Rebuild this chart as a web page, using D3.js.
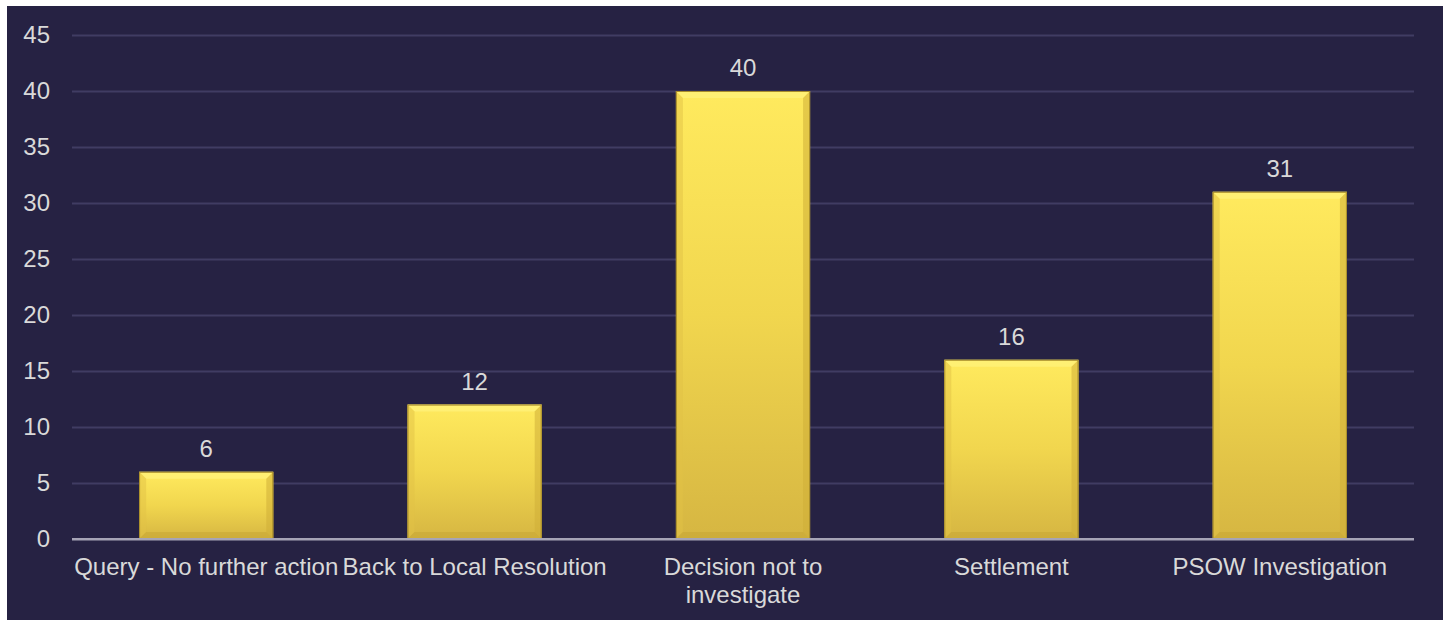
<!DOCTYPE html>
<html>
<head>
<meta charset="utf-8">
<script src="https://cdn.jsdelivr.net/npm/d3@7"></script>
<style>
  html, body { margin: 0; padding: 0; background: #ffffff; }
  svg { display: block; }
  text { font-family: "Liberation Sans", Arial, sans-serif; }
</style>
</head>
<body>
<svg id="chart" width="1448" height="620"></svg>
<script>
const categories = ["Query - No further action", "Back to Local Resolution", "Decision not to investigate", "Settlement", "PSOW Investigation"];
const values = [6, 12, 40, 16, 31];
const yTicks = [0, 5, 10, 15, 20, 25, 30, 35, 40, 45];

const W = 1448, H = 620;
const FS = 24;
const panel = {x: 7, y: 6, w: 1436, h: 620};
const margin = {left: 72, right: 34, top: 35, bottom: 81};

const svg = d3.select("#chart");

const defs = svg.append("defs");
const grad = defs.append("linearGradient").attr("id", "barGrad")
  .attr("x1", 0).attr("y1", 0).attr("x2", 0).attr("y2", 1);
grad.append("stop").attr("offset", "0%").attr("stop-color", "#ffea5e");
grad.append("stop").attr("offset", "50%").attr("stop-color", "#f1d64e");
grad.append("stop").attr("offset", "100%").attr("stop-color", "#d6b642");

svg.append("rect").attr("x", panel.x).attr("y", panel.y)
  .attr("width", panel.w).attr("height", panel.h).attr("fill", "#262243");

const x = d3.scaleBand().domain(categories)
  .range([margin.left, W - margin.right]).paddingInner(0.5).paddingOuter(0.25);
const y = d3.scaleLinear().domain([0, 45]).range([H - margin.bottom, margin.top]);

// gridlines
const yAxis = d3.axisLeft(y).tickValues(yTicks).tickSize(-(W - margin.right - margin.left)).tickPadding(22);
const gy = svg.append("g").attr("transform", `translate(${margin.left},0)`).call(yAxis);
gy.select(".domain").remove();
gy.selectAll(".tick line").attr("stroke-width", 2)
  .attr("stroke", d => d === 0 ? "#a6a4b6" : "#403c63");
gy.selectAll(".tick text").attr("fill", "#d9d9d9").attr("font-size", FS)
  .attr("font-family", "'Liberation Sans', Arial, sans-serif").attr("x", -22);

// bars
const bars = svg.append("g").selectAll("g.bar").data(categories).join("g").attr("class", "bar");
bars.each(function(c, i) {
  const g = d3.select(this);
  const x0 = x(c), x1 = x(c) + x.bandwidth();
  const yt = y(values[i]), yb = y(0);
  const b = 7;
  g.append("rect").attr("x", x0).attr("y", yt).attr("width", x1 - x0).attr("height", yb - yt)
    .attr("fill", "url(#barGrad)");
  // bevels
  g.append("polygon").attr("points", [[x0, yt], [x1, yt], [x1 - b, yt + b], [x0 + b, yt + b]].join(" "))
    .attr("fill", "#fff27e").attr("opacity", 0.7);
  g.append("polygon").attr("points", [[x0, yt], [x0 + b, yt + b], [x0 + b, yb - b], [x0, yb]].join(" "))
    .attr("fill", "#e2c246").attr("opacity", 0.5);
  g.append("polygon").attr("points", [[x1, yt], [x1 - b, yt + b], [x1 - b, yb - b], [x1, yb]].join(" "))
    .attr("fill", "#cfae38").attr("opacity", 0.55);
  g.append("polygon").attr("points", [[x0, yb], [x0 + b, yb - b], [x1 - b, yb - b], [x1, yb]].join(" "))
    .attr("fill", "#c6a634").attr("opacity", 0.55);
  g.append("rect").attr("x", x0 + 0.5).attr("y", yt + 0.5).attr("width", x1 - x0 - 1).attr("height", yb - yt - 1)
    .attr("fill", "none").attr("stroke", "#a88d2c").attr("stroke-width", 1);
  g.append("text").attr("x", (x0 + x1) / 2).attr("y", yt - 15)
    .attr("text-anchor", "middle").attr("fill", "#d9d9d9").attr("font-size", FS)
    .text(values[i]);
});

// redraw zero line on top
svg.append("line").attr("x1", margin.left).attr("x2", W - margin.right)
  .attr("y1", y(0)).attr("y2", y(0)).attr("stroke", "#a6a4b6").attr("stroke-width", 2);

// x labels with wrapping
const xAxis = d3.axisBottom(x).tickSize(0).tickPadding(19);
const gx = svg.append("g").attr("transform", `translate(0,${y(0)})`).call(xAxis);
gx.select(".domain").remove();
gx.selectAll(".tick text").attr("fill", "#d9d9d9").attr("font-size", FS)
  .attr("font-family", "'Liberation Sans', Arial, sans-serif")
  .each(function(d) {
    const t = d3.select(this);
    const maxW = x.step();
    const words = d.split(" ");
    t.text(null);
    let line = [];
    let tspan = t.append("tspan").attr("x", 0).attr("dy", "0.71em");
    for (const w of words) {
      line.push(w);
      tspan.text(line.join(" "));
      if (tspan.node().getComputedTextLength() > maxW && line.length > 1) {
        line.pop();
        tspan.text(line.join(" "));
        line = [w];
        tspan = t.append("tspan").attr("x", 0).attr("dy", "1.16em").text(w);
      }
    }
  });
</script>
</body>
</html>
